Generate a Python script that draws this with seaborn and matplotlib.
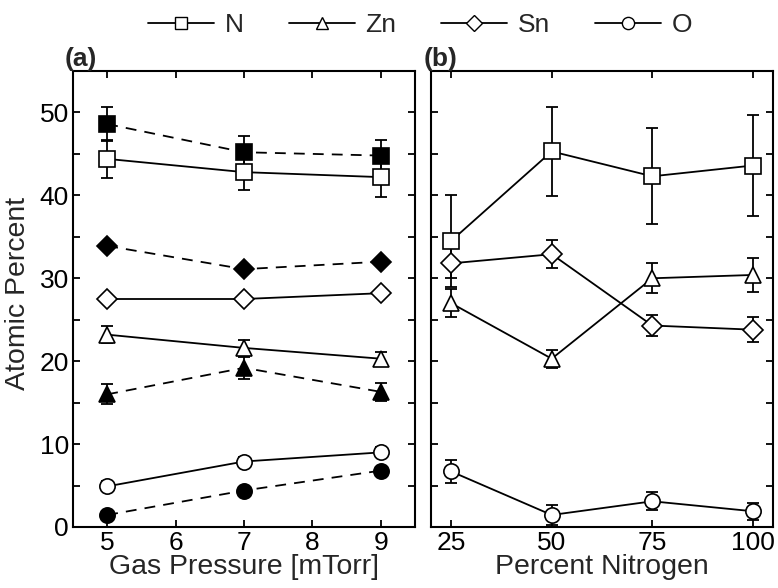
import numpy as np
import pandas as pd
import matplotlib
matplotlib.use("Agg")
import matplotlib.pyplot as plt
from matplotlib.ticker import MultipleLocator
from matplotlib.lines import Line2D
import seaborn as sns

sns.set_theme(style="ticks")
plt.rcParams['font.family'] = ['Liberation Sans', 'DejaVu Sans']

# ---------------- data ----------------
elements = ["N", "Zn", "Sn", "O"]
markers = {"N": "s", "Zn": "^", "Sn": "D", "O": "o"}

# panel (a): gas pressure
pressure = [5, 7, 9]
a_open = {
    "N":  [44.4, 42.8, 42.2],
    "Zn": [23.2, 21.6, 20.3],
    "Sn": [27.5, 27.5, 28.2],
    "O":  [4.9, 7.9, 9.0],
}
a_open_err = {
    "N":  [2.3, 2.2, 2.4],
    "Zn": [1.0, 0.9, 0.8],
    "Sn": [0.5, 0.5, 0.5],
    "O":  [0.6, 0.5, 0.6],
}
a_filled = {
    "N":  [48.6, 45.2, 44.8],
    "Zn": [16.0, 19.2, 16.3],
    "Sn": [33.9, 31.1, 32.0],
    "O":  [1.45, 4.4, 6.8],
}
a_filled_err = {
    "N":  [2.0, 1.9, 1.9],
    "Zn": [1.2, 1.3, 1.1],
    "Sn": [0.4, 0.4, 0.4],
    "O":  [0.3, 0.3, 0.3],
}

# panel (b): percent nitrogen
nitrogen = [25, 50, 75, 100]
b_vals = {
    "N":  [34.5, 45.3, 42.3, 43.6],
    "Zn": [27.0, 20.3, 30.0, 30.4],
    "Sn": [31.8, 32.9, 24.3, 23.8],
    "O":  [6.7, 1.45, 3.1, 1.9],
}
b_err = {
    "N":  [5.5, 5.4, 5.8, 6.1],
    "Zn": [1.7, 1.1, 1.8, 2.0],
    "Sn": [1.8, 1.7, 1.3, 1.5],
    "O":  [1.4, 1.2, 1.1, 1.0],
}

# ---------------- figure ----------------
fig = plt.figure(figsize=(7.78, 5.88), dpi=100)
ax_a = fig.add_axes([73/778, 1-527/588, (415-73)/778, (527-71)/588])
ax_b = fig.add_axes([431/778, 1-527/588, (773-431)/778, (527-71)/588])

LW = 1.3
MS = {"s": 11, "^": 11.5, "D": 10, "o": 11}


def draw(ax, x, y, err, m, filled, dashed):
    ax.errorbar(x, y, yerr=err, fmt='none', ecolor='black', elinewidth=LW,
                capsize=4, capthick=LW, zorder=2)
    sns.lineplot(x=x, y=y, ax=ax, color='black', linewidth=LW,
                 linestyle=(0, (6, 4.5)) if dashed else '-',
                 marker=m, markersize=MS[m],
                 markerfacecolor='black' if filled else 'white',
                 markeredgecolor='black', markeredgewidth=1.2, zorder=3)


for el in elements:
    m = markers[el]
    draw(ax_a, pressure, a_filled[el], a_filled_err[el], m, True, True)
    draw(ax_a, pressure, a_open[el], a_open_err[el], m, False, False)
    draw(ax_b, nitrogen, b_vals[el], b_err[el], m, False, False)

for ax in (ax_a, ax_b):
    ax.set_ylim(0, 55)
    ax.yaxis.set_major_locator(MultipleLocator(10))
    ax.yaxis.set_minor_locator(MultipleLocator(5))
    ax.tick_params(which='both', direction='in', length=5, width=1.3,
                   top=True, right=True, labelsize=19, pad=3, colors='black')
    for s in ax.spines.values():
        s.set_linewidth(1.5)
        s.set_color('black')
    ax.set_ylabel("")

ax_a.set_xlim(4.5, 9.5)
ax_a.xaxis.set_major_locator(MultipleLocator(1))
ax_a.set_xlabel("Gas Pressure [mTorr]", fontsize=20.5, labelpad=-1)
ax_b.set_xlim(20, 105)
ax_b.set_xticks(nitrogen)
ax_b.set_xlabel("Percent Nitrogen", fontsize=20.5, labelpad=-1)
ax_b.tick_params(labelleft=False)
ax_a.tick_params(axis='x', which='minor', bottom=False, top=False)

fig.text(18/778, 1-293/588, "Atomic Percent", rotation=90, fontsize=20.5,
         ha='center', va='center')

ax_a.text(-0.025, 1.0, "(a)", transform=ax_a.transAxes, fontsize=19,
          fontweight='bold', ha='left', va='bottom')
ax_b.text(-0.022, 1.0, "(b)", transform=ax_b.transAxes, fontsize=19,
          fontweight='bold', ha='left', va='bottom')

handles = [Line2D([], [], color='black', linewidth=LW, marker=markers[el],
                  markersize=MS[markers[el]] * 0.8, markerfacecolor='white',
                  markeredgecolor='black') for el in elements]
fig.legend(handles, elements, loc='center', bbox_to_anchor=(0.54, 1-25/588),
           ncol=4, frameon=False, fontsize=19, handlelength=2.5,
           columnspacing=1.7, handletextpad=0.4)

fig.savefig("out.png", dpi=100)
